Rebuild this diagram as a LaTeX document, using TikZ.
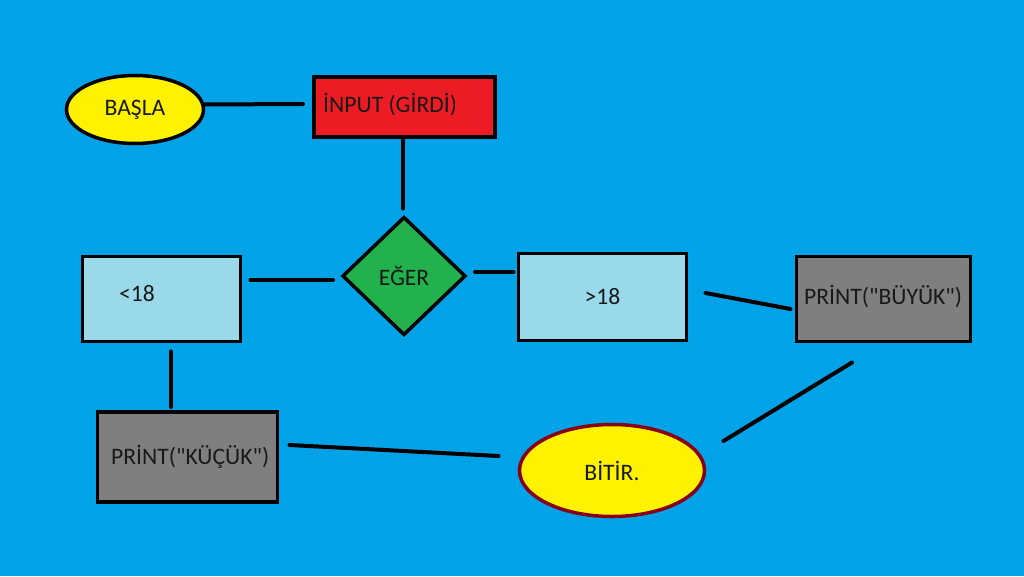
\documentclass[tikz,border=0pt]{standalone}
\usepackage{fontspec}
\setmainfont{Carlito}[Ligatures=TeXOff]
\usetikzlibrary{shapes.geometric,calc}
\definecolor{bgblue}{HTML}{00A2E8}
\definecolor{pyellow}{HTML}{FFF200}
\definecolor{pred}{HTML}{ED1C24}
\definecolor{pgreen}{HTML}{22B14C}
\definecolor{plblue}{HTML}{99D9EA}
\definecolor{pgray}{HTML}{7F7F7F}
\definecolor{pdred}{HTML}{880015}
\tikzset{
  base/.style={draw=black,line width=3.5pt,inner sep=0pt,outer sep=0pt,text=black!90,font=\fontsize{23.6}{28}\selectfont},
  oval/.style={base,ellipse,fill=pyellow},
  boxr/.style={base,rectangle,fill=pred},
  boxb/.style={base,rectangle,fill=plblue},
  boxg/.style={base,rectangle,fill=pgray},
  dia/.style={base,diamond,fill=pgreen},
  txt/.style={inner sep=0pt,text=black!90,font=\fontsize{23.6}{28}\selectfont},
  conn/.style={draw=black,line width=4pt,line cap=round}
}
\begin{document}
\begin{tikzpicture}[x=1pt,y=-1pt]
\fill[bgblue] (0,0) rectangle (1024,576);
\useasboundingbox (0,0) rectangle (1024,576);

\node[oval,minimum width=137pt,minimum height=68pt] (basla) at (135,109.5) {BAŞLA};
\node[boxr,minimum width=181pt,minimum height=60pt] (input) at (404.5,107) {};
\node[txt,anchor=west] (inputtxt) at (323,105) {İNPUT (GİRDİ)};
\node[dia,minimum width=122pt,minimum height=117pt] (eger) at (404,276) {EĞER};
\node[boxb,minimum width=158pt,minimum height=85pt] (kucuk) at (161.5,299) {};
\node[txt,anchor=west] (kucuktxt) at (119,294) {<18};
\node[boxb,minimum width=168pt,minimum height=87pt] (buyuk) at (602.5,297) {>18};
\node[boxg,minimum width=174pt,minimum height=85pt] (pbuyuk) at (883.5,299) {};
\node[txt,anchor=west] (pbuyuktxt) at (804,297) {PRİNT("BÜYÜK")};
\node[boxg,minimum width=180pt,minimum height=90pt] (pkucuk) at (187.5,457) {};
\node[txt,anchor=west] (pkucuktxt) at (111,457) {PRİNT("KÜÇÜK")};
\node[oval,draw=pdred,minimum width=185pt,minimum height=92pt] (bitir) at (612,470.5) {BİTİR.};

\draw[conn] ($(basla.east)+(0,-5)$) -- ($(input.west)+(-11,-3)$);
\draw[conn] ($(input.south)+(-1.5,0)$) -- ($(eger.north)+(-1,-9)$);
\draw[conn] ($(eger.west)+(-10,4)$) -- ($(kucuk.east)+(10,-19)$);
\draw[conn] ($(eger.east)+(10,-4)$) -- ($(buyuk.west)+(-5,-25)$);
\draw[conn] ($(buyuk.east)+(19,-4)$) -- ($(pbuyuk.west)+(-6,10)$);
\draw[conn] ($(kucuk.south)+(9.5,10)$) -- ($(pkucuk.north)+(-16.5,-5)$);
\draw[conn] ($(pkucuk.east)+(12,-12)$) -- ($(bitir.west)+(-21,-14.5)$);
\draw[conn] ($(bitir.east)+(19,-29.5)$) -- ($(pbuyuk.south)+(-31.5,21)$);
\end{tikzpicture}
\end{document}
